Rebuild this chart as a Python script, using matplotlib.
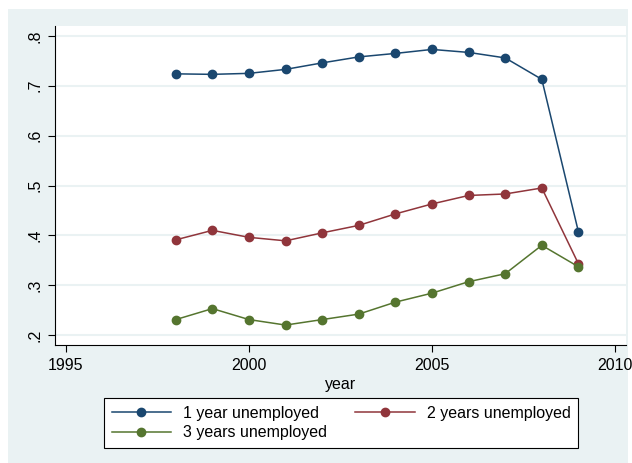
import matplotlib
matplotlib.use("Agg")
import matplotlib.pyplot as plt
from matplotlib.patches import Rectangle

years = [1998, 1999, 2000, 2001, 2002, 2003, 2004, 2005, 2006, 2007, 2008, 2009]
one_year = [0.724, 0.723, 0.725, 0.733, 0.746, 0.758, 0.765, 0.773, 0.767, 0.756, 0.713, 0.407]
two_years = [0.391, 0.410, 0.396, 0.389, 0.405, 0.420, 0.443, 0.463, 0.480, 0.483, 0.495, 0.343]
three_years = [0.231, 0.253, 0.231, 0.220, 0.231, 0.242, 0.266, 0.284, 0.307, 0.323, 0.380, 0.337]
series_labels = ["1 year unemployed", "2 years unemployed", "3 years unemployed"]
x_ticks = [1995, 2000, 2005, 2010]
y_ticks = [0.2, 0.3, 0.4, 0.5, 0.6, 0.7, 0.8]
y_tick_labels = [".2", ".3", ".4", ".5", ".6", ".7", ".8"]

NAVY = "#1a476f"
MAROON = "#90353b"
GREEN = "#55752f"
BG = "#eaf2f3"
FS = 11.5

plt.rcParams["font.family"] = ["Liberation Sans", "DejaVu Sans"]
W, H = 632, 463
fig = plt.figure(figsize=(W / 100, H / 100), dpi=100)
fig.patch.set_facecolor("white")

# graph region background
fig.patches.append(Rectangle((8 / W, 0), 620 / W, 454 / H, transform=fig.transFigure,
                             facecolor=BG, edgecolor="none", zorder=-10))

ax = fig.add_axes([55 / W, (H - 345) / H, (626 - 55) / W, (345 - 26) / H])
ax.set_facecolor("white")

for vals, col, lab in zip([one_year, two_years, three_years], [NAVY, MAROON, GREEN], series_labels):
    ax.plot(years, vals, color=col, lw=1.1, marker="o", ms=6, mec=col, mfc=col, label=lab, zorder=3)

ax.set_xlim(1994.7, 2010.3)
ax.set_ylim(0.18, 0.82)
ax.set_xticks(x_ticks)
ax.set_yticks(y_ticks)
ax.set_yticklabels(y_tick_labels, rotation=90, va="center")
ax.yaxis.grid(True, color=BG, lw=1.5, zorder=0)
ax.set_axisbelow(True)
for s in ["top", "right"]:
    ax.spines[s].set_visible(False)
for s in ["left", "bottom"]:
    ax.spines[s].set_color("black")
    ax.spines[s].set_linewidth(0.8)
ax.tick_params(axis="both", direction="out", length=5, width=0.8, color="black",
               labelsize=FS, pad=4)
ax.set_xlabel("year", fontsize=FS, labelpad=3)

h, l = ax.get_legend_handles_labels()
order = [0, 2, 1]
leg = fig.legend([h[i] for i in order], [l[i] for i in order], ncol=2,
                 loc="center", bbox_to_anchor=(341 / W, 1 - 423 / H),
                 fontsize=FS, frameon=True, fancybox=False, edgecolor="black",
                 framealpha=1, handlelength=3.7, handletextpad=0.75, columnspacing=1.8,
                 borderpad=0.45, labelspacing=0.3)
leg.get_frame().set_linewidth(0.8)

fig.savefig("out.png", dpi=100, facecolor="white")
